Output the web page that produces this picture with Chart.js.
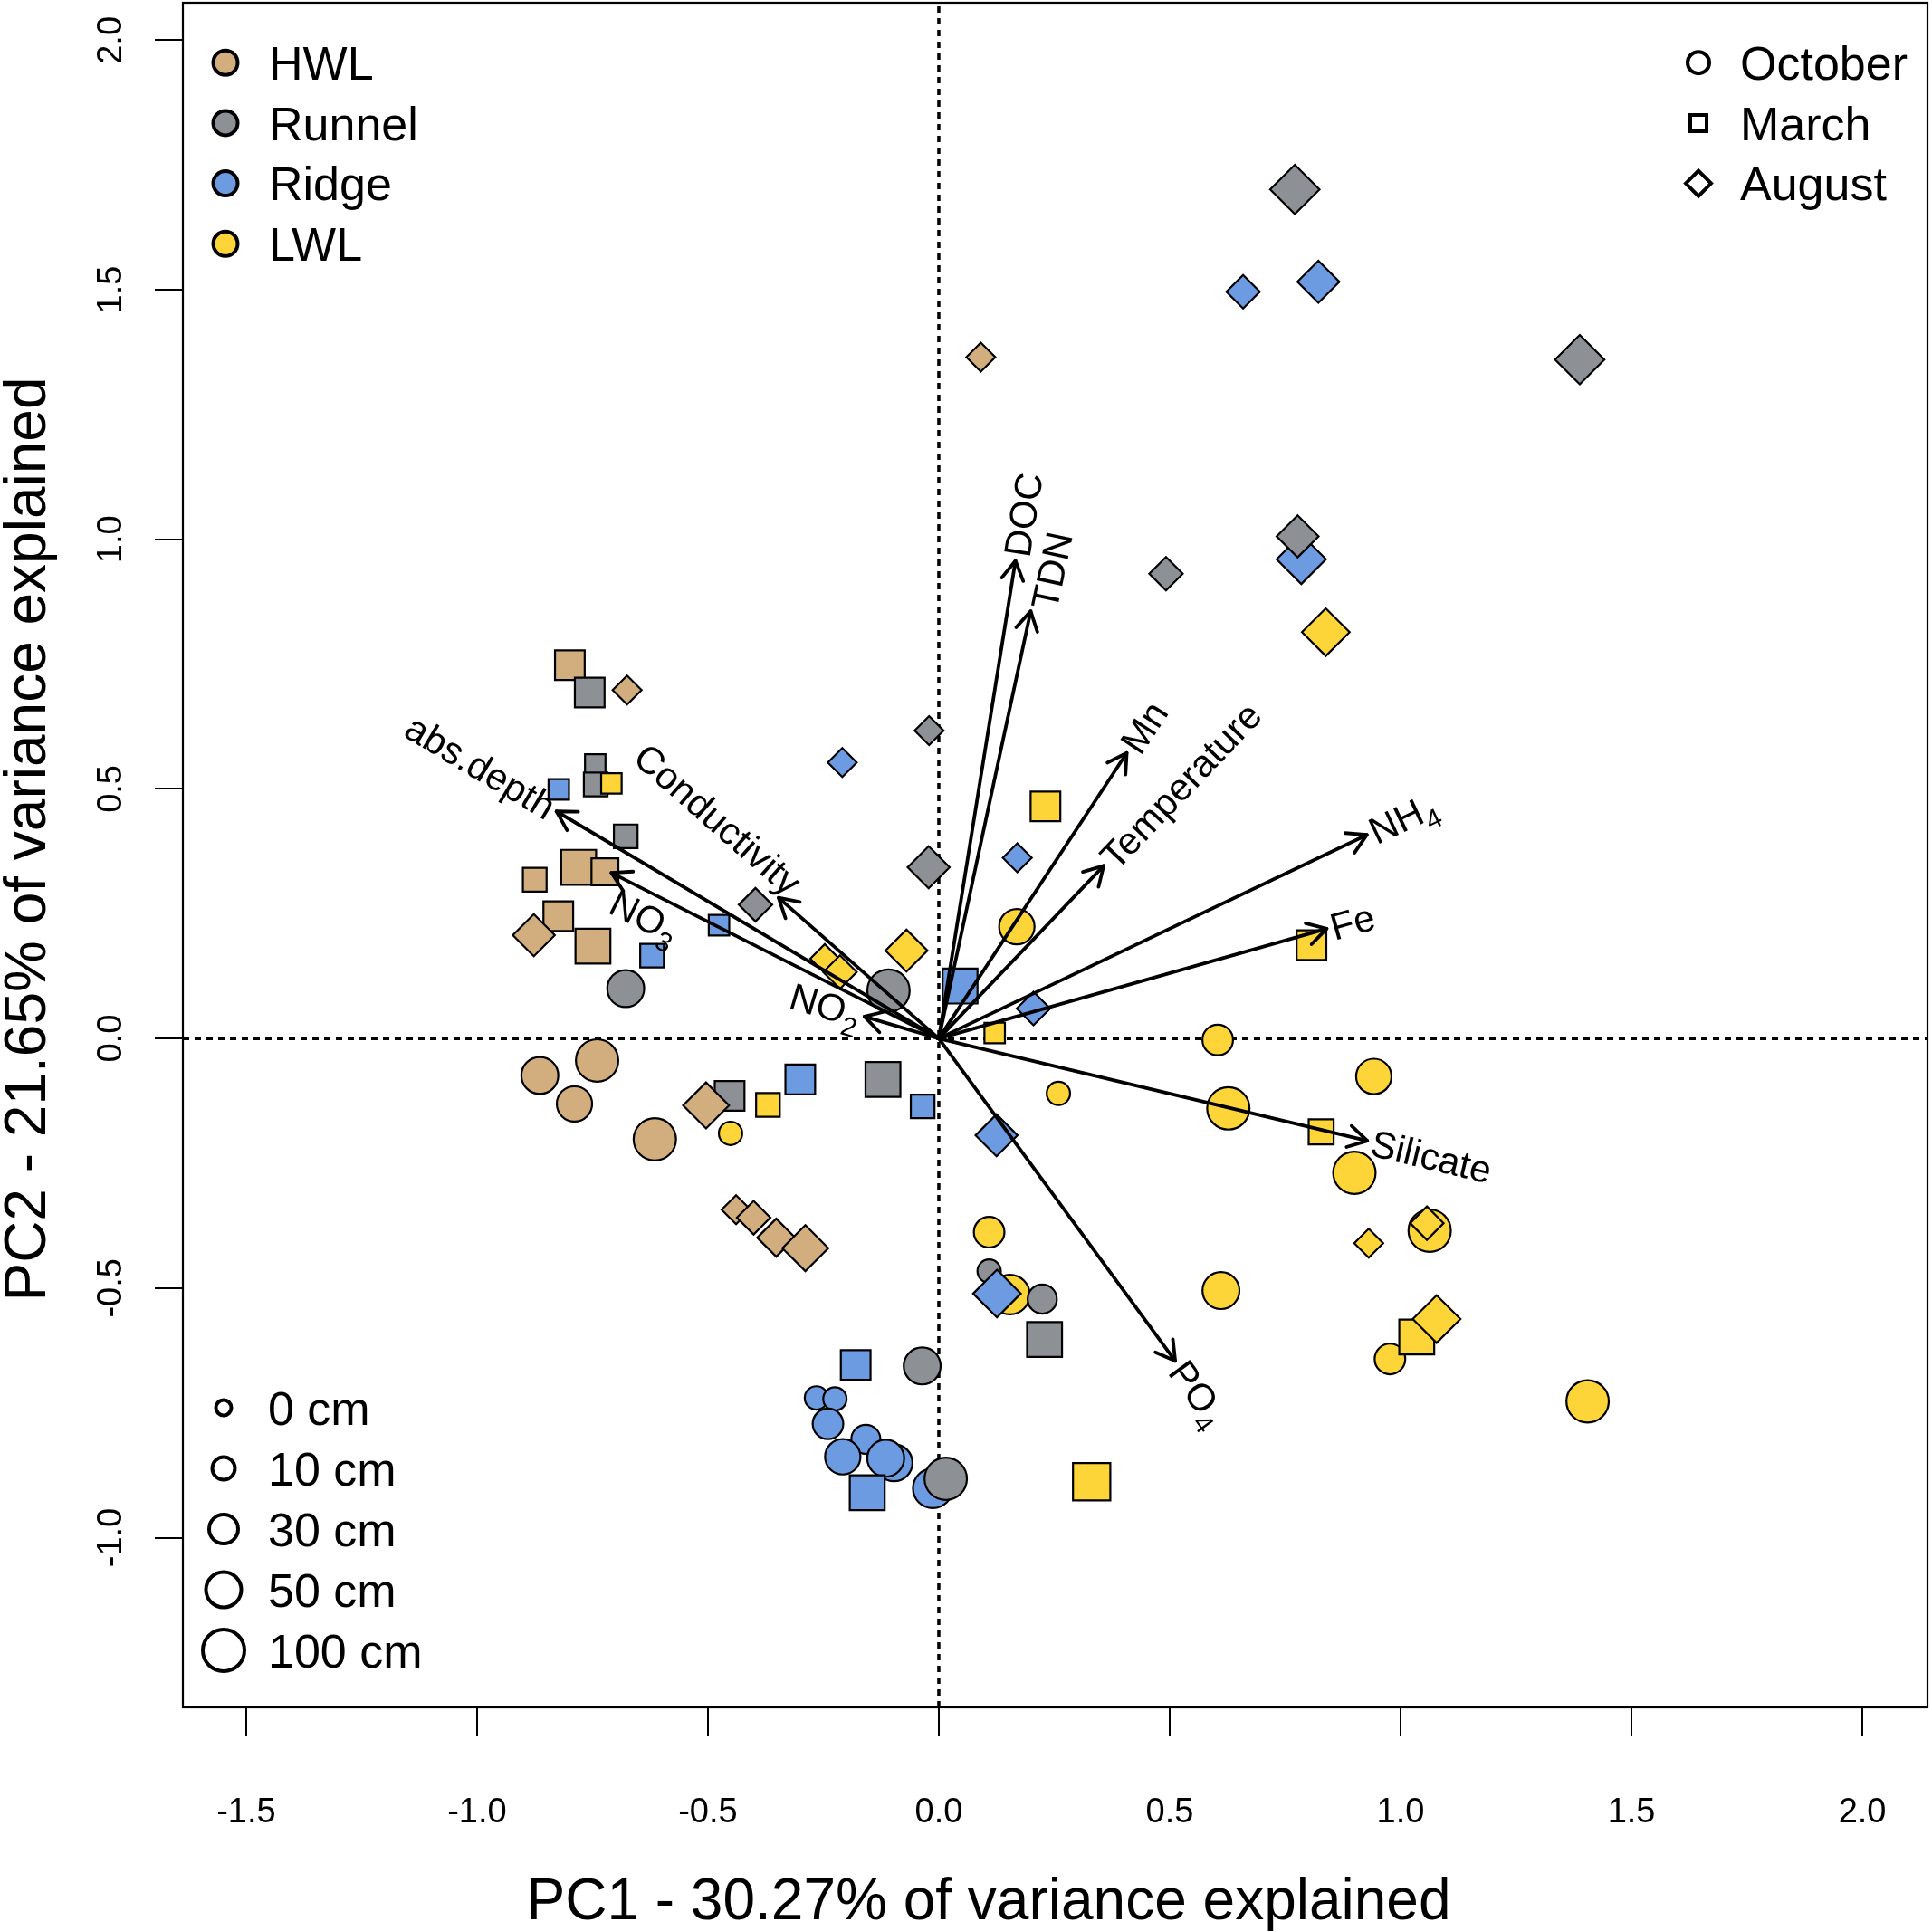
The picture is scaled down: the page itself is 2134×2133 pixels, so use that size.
<!DOCTYPE html>
<html>
<head>
<meta charset="utf-8">
<script src="https://cdn.jsdelivr.net/npm/chart.js@4.4.1/dist/chart.umd.min.js"></script>
<style>
  html, body { margin: 0; padding: 0; background: #fff; overflow: hidden; }
  #pca { display: block; }
</style>
</head>
<body>
<canvas id="pca" width="2134" height="2133"></canvas>
<script>
// PCA biplot: porewater samples by site (colour), month (shape) and depth (size)

// axes
const xTicks = [-1.5, -1.0, -0.5, 0.0, 0.5, 1.0, 1.5, 2.0];
const xTickLabels = ['-1.5', '-1.0', '-0.5', '0.0', '0.5', '1.0', '1.5', '2.0'];
const yTicks = [-1.0, -0.5, 0.0, 0.5, 1.0, 1.5, 2.0];
const yTickLabels = ['-1.0', '-0.5', '0.0', '0.5', '1.0', '1.5', '2.0'];
const xTitle = 'PC1 - 30.27% of variance explained';
const yTitle = 'PC2 - 21.65% of variance explained';

// legend categories
const siteNames = ['HWL', 'Runnel', 'Ridge', 'LWL'];
const monthNames = ['October', 'March', 'August'];
const depthLevels = [0, 10, 30, 50, 100];

// samples: [PC1, PC2, depth in cm]
const hwlOctober = [[-0.864, -0.074, 30], [-0.740, -0.044, 50], [-0.789, -0.131, 25], [-0.615, -0.202, 50]];
const hwlMarch = [[-0.799, 0.748, 20], [-0.875, 0.318, 5], [-0.780, 0.343, 40], [-0.723, 0.334, 10], [-0.824, 0.245, 20], [-0.749, 0.185, 40]];
const hwlAugust = [[-0.675, 0.698, 0], [-0.877, 0.207, 20], [-0.504, -0.134, 30], [-0.439, -0.343, 0], [-0.401, -0.359, 5], [-0.352, -0.399, 10], [-0.289, -0.420, 30], [0.091, 1.365, 0]];

const runnelOctober = [[-0.678, 0.100, 30], [-0.109, 0.096, 50], [0.109, -0.466, 0], [0.224, -0.522, 8], [-0.036, -0.656, 30], [0.015, -0.882, 50]];
const runnelMarch = [[-0.756, 0.693, 20], [-0.744, 0.549, 0], [-0.743, 0.509, 5], [-0.678, 0.405, 5], [-0.453, -0.115, 20], [-0.121, -0.082, 40], [0.229, -0.603, 40]];
const runnelAugust = [[0.771, 1.701, 40], [1.388, 1.360, 40], [0.777, 1.006, 20], [0.492, 0.931, 5], [-0.021, 0.617, 0], [-0.022, 0.343, 20], [-0.397, 0.268, 5]];

const ridgeOctober = [[-0.265, -0.720, 0], [-0.225, -0.722, 0], [-0.240, -0.772, 10], [-0.158, -0.803, 8], [-0.208, -0.838, 25], [-0.097, -0.850, 30], [-0.115, -0.841, 30], [-0.013, -0.901, 40]];
const ridgeMarch = [[-0.823, 0.499, 0], [-0.476, 0.227, 0], [-0.621, 0.166, 5], [-0.300, -0.082, 20], [-0.035, -0.136, 5], [-0.180, -0.654, 20], [-0.155, -0.910, 40], [0.046, 0.105, 40]];
const ridgeAugust = [[-0.209, 0.553, 0], [0.170, 0.362, 0], [0.205, 0.060, 5], [0.125, -0.194, 20], [0.126, -0.511, 35], [0.659, 1.496, 5], [0.822, 1.516, 20], [0.785, 0.960, 40]];

const lwlOctober = [[0.169, 0.224, 25], [-0.451, -0.190, 0], [0.259, -0.110, 0], [0.109, -0.388, 10], [0.154, -0.513, 40], [0.604, -0.003, 10], [0.942, -0.076, 25], [0.627, -0.140, 50], [0.900, -0.269, 50], [1.063, -0.385, 50], [0.611, -0.505, 30], [0.977, -0.642, 10], [1.405, -0.727, 50]];
const lwlMarch = [[-0.709, 0.511, 0], [-0.370, -0.133, 5], [0.231, 0.465, 20], [0.807, 0.187, 20], [0.121, 0.011, 0], [0.828, -0.187, 7], [1.035, -0.598, 40], [0.331, -0.888, 50]];
const lwlAugust = [[-0.070, 0.176, 20], [-0.247, 0.160, 0], [-0.214, 0.133, 5], [0.838, 0.814, 35], [0.931, -0.410, 0], [1.057, -0.370, 5], [1.078, -0.562, 35]];

// variable loadings (arrow tips)
const vectorNames = ['DOC', 'TDN', 'Mn', 'Temperature', 'NH4', 'Fe', 'Silicate', 'PO4', 'NO2', 'Conductivity', 'abs.depth', 'NO3'];
const vectorPC1 = [0.166, 0.199, 0.407, 0.357, 0.927, 0.840, 0.928, 0.512, -0.161, -0.347, -0.828, -0.709];
const vectorPC2 = [0.957, 0.856, 0.572, 0.346, 0.408, 0.220, -0.205, -0.646, 0.044, 0.282, 0.455, 0.332];

// ---- styling ----
const FONT = '"Liberation Sans", Arial, Helvetica, sans-serif';
const siteColours = { HWL: '#D2AE7E', Runnel: '#8D9196', Ridge: '#6C9BE2', LWL: '#FDD538' };
const monthStyles = { October: 'circle', March: 'rect', August: 'rectRot' };
const depthKnots = [0, 10, 30, 50, 100];
const knotRadius = [14, 18, 21.5, 24.5, 27]; // outer radius of an equivalent circle

function outerRadius(d) {
  for (let i = 1; i < depthKnots.length; i++) {
    if (d <= depthKnots[i]) {
      const t = (d - depthKnots[i - 1]) / (depthKnots[i] - depthKnots[i - 1]);
      return knotRadius[i - 1] + t * (knotRadius[i] - knotRadius[i - 1]);
    }
  }
  return knotRadius[knotRadius.length - 1];
}
// equal-area symbols like R's pch 21/22/23
function markerRadius(d, style) {
  const r = outerRadius(d);
  return style === 'circle' ? r - 1.1 : 1.253 * r - 1.55;
}

function sampleSet(rows, site, month, order) {
  const style = monthStyles[month];
  return {
    label: site + ' ' + month,
    data: rows.map((r) => ({ x: r[0], y: r[1], depth: r[2] })),
    pointStyle: style,
    pointRadius: (c) => markerRadius(c.raw.depth, style),
    backgroundColor: siteColours[site],
    borderColor: '#000',
    pointBorderWidth: 2.2,
    showLine: false,
    order: order,
  };
}

const X_MIN = -1.637, X_MAX = 2.141, Y_MIN = -1.340, Y_MAX = 2.075;

const datasets = [
  // dotted zero lines
  { data: [{ x: 0, y: Y_MIN }, { x: 0, y: Y_MAX }], showLine: true, borderColor: '#000', borderWidth: 3.5, borderDash: [7, 6], pointRadius: 0, order: 10 },
  { data: [{ x: X_MIN, y: 0 }, { x: X_MAX, y: 0 }], showLine: true, borderColor: '#000', borderWidth: 3.5, borderDash: [7, 6], pointRadius: 0, order: 10 },
  sampleSet(runnelOctober, 'Runnel', 'October', 3.0),
  sampleSet(lwlOctober, 'LWL', 'October', 3.1),
  sampleSet(hwlOctober, 'HWL', 'October', 3.2),
  sampleSet(ridgeOctober, 'Ridge', 'October', 3.3),
  sampleSet(lwlMarch, 'LWL', 'March', 2.0),
  sampleSet(runnelMarch, 'Runnel', 'March', 2.1),
  sampleSet(hwlMarch, 'HWL', 'March', 2.2),
  sampleSet(ridgeMarch, 'Ridge', 'March', 2.3),
  sampleSet(runnelAugust, 'Runnel', 'August', 1.0),
  sampleSet(ridgeAugust, 'Ridge', 'August', 1.1),
  sampleSet(hwlAugust, 'HWL', 'August', 1.2),
  sampleSet(lwlAugust, 'LWL', 'August', 1.3),
];
// arrow shafts from the origin
vectorNames.forEach((name, i) => {
  datasets.push({
    label: name,
    data: [{ x: 0, y: 0 }, { x: vectorPC1[i], y: vectorPC2[i] }],
    showLine: true,
    borderColor: '#000',
    borderWidth: 3.8,
    borderCapStyle: 'round',
    pointRadius: 0,
    order: 0,
  });
});

function splitLabel(name) {
  const m = name.match(/^([A-Z][A-Za-z]*?)(\d)$/);
  return m ? [m[1], m[2]] : [name, ''];
}

function labelWidth(ctx, name) {
  const [main, sub] = splitLabel(name);
  ctx.font = '42px ' + FONT;
  const w1 = ctx.measureText(main).width;
  ctx.font = '30px ' + FONT;
  return w1 + (sub ? ctx.measureText(sub).width : 0);
}

function drawVectorLabel(ctx, name, cx, cy, angle) {
  const [main, sub] = splitLabel(name);
  const total = labelWidth(ctx, name);
  ctx.font = '42px ' + FONT;
  const w1 = ctx.measureText(main).width;
  ctx.save();
  ctx.translate(cx, cy);
  ctx.rotate(angle);
  ctx.textAlign = 'left';
  ctx.textBaseline = 'alphabetic';
  ctx.fillText(main, -total / 2, 15);
  if (sub) {
    ctx.font = '30px ' + FONT;
    ctx.fillText(sub, -total / 2 + w1, 26);
  }
  ctx.restore();
}

// hand-placed labels: offset (px) of the label centre from the arrow tip
const labelShift = { NO3: [37, 48], Conductivity: [-67, -87], TDN: [23, -45] };

const biplotDecor = {
  id: 'biplotDecor',
  afterDatasetsDraw(chart) {
    const { ctx, scales: { x, y } } = chart;
    const ox = x.getPixelForValue(0), oy = y.getPixelForValue(0);
    ctx.save();
    ctx.strokeStyle = '#000';
    ctx.fillStyle = '#000';
    ctx.lineWidth = 3.8;
    ctx.lineCap = 'round';
    ctx.lineJoin = 'round';
    vectorNames.forEach((name, i) => {
      const tx = x.getPixelForValue(vectorPC1[i]);
      const ty = y.getPixelForValue(vectorPC2[i]);
      const th = Math.atan2(ty - oy, tx - ox);
      const len = 24, spread = Math.PI / 6;
      ctx.beginPath();
      ctx.moveTo(tx - len * Math.cos(th - spread), ty - len * Math.sin(th - spread));
      ctx.lineTo(tx, ty);
      ctx.lineTo(tx - len * Math.cos(th + spread), ty - len * Math.sin(th + spread));
      ctx.stroke();
      let angle = th;
      if (tx < ox) angle += Math.PI;
      const w = labelWidth(ctx, name);
      let cx, cy;
      if (labelShift[name]) {
        cx = tx + labelShift[name][0];
        cy = ty + labelShift[name][1];
      } else {
        cx = tx + Math.cos(th) * (w / 2 + 5);
        cy = ty + Math.sin(th) * (w / 2 + 5);
      }
      drawVectorLabel(ctx, name, cx, cy, angle);
    });
    ctx.restore();
  },
  afterDraw(chart) {
    const { ctx, chartArea: a, scales: { x, y } } = chart;
    ctx.save();
    ctx.strokeStyle = '#000';
    ctx.fillStyle = '#000';
    // frame
    ctx.lineWidth = 2.2;
    ctx.strokeRect(a.left, a.top, a.right - a.left, a.bottom - a.top);
    // tick labels
    ctx.font = '38px ' + FONT;
    ctx.textAlign = 'center';
    ctx.textBaseline = 'alphabetic';
    xTicks.forEach((v, i) => ctx.fillText(xTickLabels[i], x.getPixelForValue(v), 2013));
    yTicks.forEach((v, i) => {
      ctx.save();
      ctx.translate(134, y.getPixelForValue(v));
      ctx.rotate(-Math.PI / 2);
      ctx.fillText(yTickLabels[i], 0, 0);
      ctx.restore();
    });
    // axis titles
    ctx.font = '64px ' + FONT;
    ctx.fillText(xTitle, 1092, 2120);
    ctx.save();
    ctx.translate(50, 927);
    ctx.rotate(-Math.PI / 2);
    ctx.fillText(yTitle, 0, 0);
    ctx.restore();

    // legends
    ctx.font = '52px ' + FONT;
    ctx.textAlign = 'left';
    ctx.lineWidth = 4;
    const rowGap = 66.7;
    siteNames.forEach((s, i) => {
      const cy = 69.2 + i * rowGap;
      ctx.beginPath();
      ctx.arc(249, cy, 13.5, 0, Math.PI * 2);
      ctx.fillStyle = siteColours[s];
      ctx.fill();
      ctx.stroke();
      ctx.fillStyle = '#000';
      ctx.fillText(s, 297, cy + 18.6);
    });
    monthNames.forEach((mName, i) => {
      const cy = 69.2 + i * rowGap, cx = 1876;
      const style = monthStyles[mName];
      ctx.beginPath();
      if (style === 'circle') ctx.arc(cx, cy, 12, 0, Math.PI * 2);
      else if (style === 'rect') ctx.rect(cx - 9, cy - 9, 18, 18);
      else {
        ctx.moveTo(cx - 14, cy); ctx.lineTo(cx, cy - 14);
        ctx.lineTo(cx + 14, cy); ctx.lineTo(cx, cy + 14);
        ctx.closePath();
      }
      ctx.stroke();
      ctx.fillText(mName, 1922, cy + 18.6);
    });
    const depthR = [8.5, 12.5, 16, 19.5, 23];
    depthLevels.forEach((d, i) => {
      const cy = 1555 + i * 67;
      ctx.beginPath();
      ctx.arc(247, cy, depthR[i], 0, Math.PI * 2);
      ctx.stroke();
      ctx.fillText(d + ' cm', 296, cy + 18.6);
    });
    ctx.restore();
  },
};

new Chart(document.getElementById('pca').getContext('2d'), {
  type: 'scatter',
  data: { datasets },
  options: {
    responsive: false,
    animation: false,
    devicePixelRatio: 1,
    events: [],
    layout: { autoPadding: false, padding: { top: 3, right: 5, left: 0, bottom: 0 } },
    plugins: { legend: { display: false }, tooltip: { enabled: false } },
    scales: {
      x: {
        type: 'linear',
        min: X_MIN,
        max: X_MAX,
        afterBuildTicks: (s) => { s.ticks = xTicks.map((v) => ({ value: v })); },
        afterFit: (s) => { s.height = 247; },
        grid: { drawOnChartArea: false, drawTicks: true, tickLength: 32, color: '#000', lineWidth: 2 },
        border: { display: false },
        ticks: { display: false },
      },
      y: {
        type: 'linear',
        min: Y_MIN,
        max: Y_MAX,
        afterBuildTicks: (s) => { s.ticks = yTicks.map((v) => ({ value: v })); },
        afterFit: (s) => { s.width = 202; },
        grid: { drawOnChartArea: false, drawTicks: true, tickLength: 31, color: '#000', lineWidth: 2 },
        border: { display: false },
        ticks: { display: false },
      },
    },
  },
  plugins: [biplotDecor],
});
</script>
</body>
</html>
